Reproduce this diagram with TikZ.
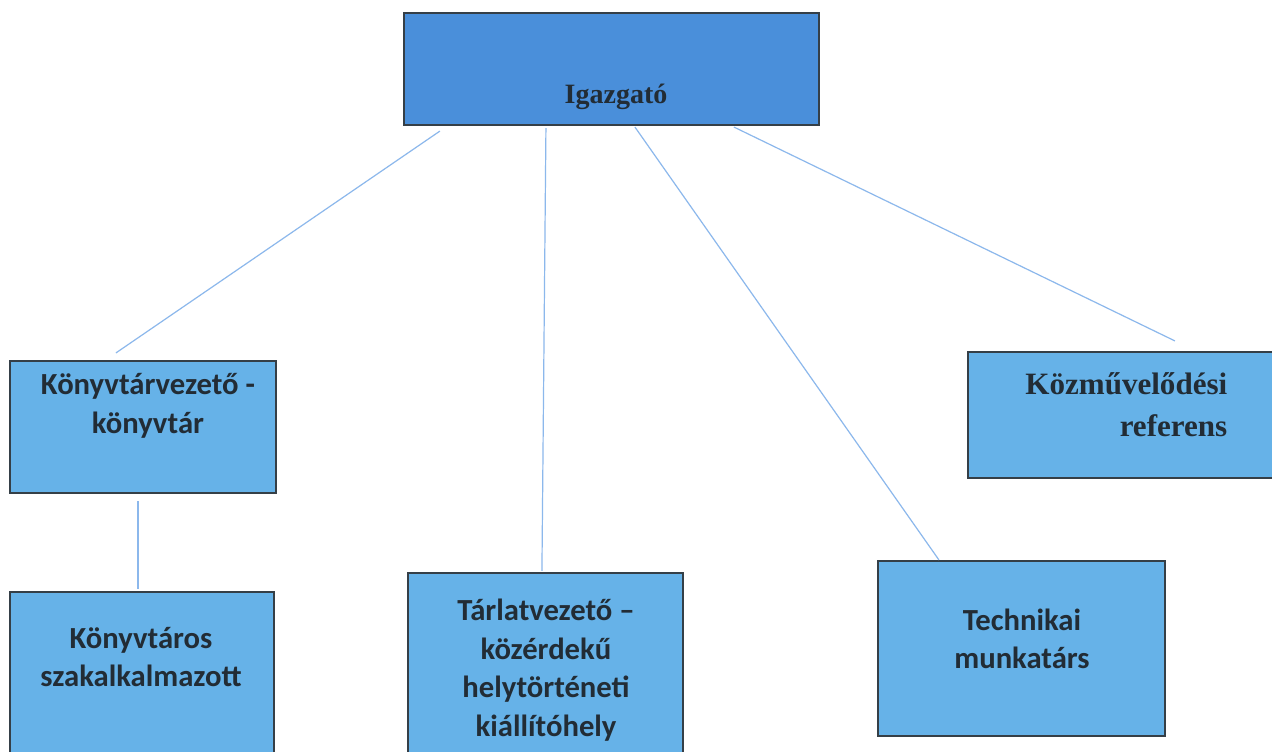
\documentclass[tikz,border=0pt]{standalone}
\usepackage{fontspec}
\setmainfont{Liberation Serif}
\newfontfamily\boxfont{Carlito}
\usetikzlibrary{calc}
\definecolor{chiefblue}{HTML}{4A8FDA}
\definecolor{staffblue}{HTML}{66B2E8}
\definecolor{framegrey}{HTML}{353F47}
\definecolor{linkblue}{HTML}{8CB8EC}
\definecolor{inkgrey}{HTML}{222C35}

\begin{document}
\begin{tikzpicture}[x=0.75pt, y=-0.75pt,
	unit/.style={draw=framegrey, line width=1.6pt, fill=staffblue, inner sep=0pt},
	link/.style={draw=linkblue, line width=0.9pt},
	sanstext/.style={font=\boxfont\bfseries\fontsize{23}{29}\selectfont, text=inkgrey, align=center},
	seriftext/.style={font=\bfseries\fontsize{21}{31}\selectfont, text=inkgrey}]
			%%%%% START %%%%%
			
			\fill[white] (0, 0) rectangle (1272, 752);
			\useasboundingbox (0, 0) rectangle (1272, 752);
			
			% boxes
			\node[unit, fill=chiefblue, minimum width=311.25pt, minimum height=84pt] (chief) at (611.5, 69) {};
			\node[unit, minimum width=199.5pt, minimum height=99pt] (library) at (143, 427) {};
			\node[unit, minimum width=198pt, minimum height=133.5pt] (librarian) at (142, 681) {};
			\node[unit, minimum width=206.25pt, minimum height=147.75pt] (exhibit) at (545.5, 671.5) {};
			\node[unit, minimum width=215.25pt, minimum height=131.25pt] (technical) at (1021.5, 648.5) {};
			\node[unit, minimum width=241.5pt, minimum height=94.5pt] (culture) at (1129, 415) {};
			
			% texts
			\node[seriftext] (chieftext) at (616, 97) {Igazgató};
			\node[sanstext] (librarytext) at (148, 406) {Könyvtárvezető -\\könyvtár};
			\node[sanstext] (librariantext) at (141, 657) {Könyvtáros\\szakalkalmazott};
			\node[sanstext] (exhibittext) at (546, 670) {Tárlatvezető –\\közérdekű\\helytörténeti\\kiállítóhely};
			\node[sanstext] (technicaltext) at (1022, 639) {Technikai\\munkatárs};
			\node[seriftext, align=right, font=\bfseries\fontsize{23.3}{31.5}\selectfont, anchor=east] (culturetext) at (1232, 405) {Közművelődési\\referens};
			
			% links
			\draw[link] ([shift={(37, 5)}]chief.south west) -- ([shift={(107, -7)}]library.north west);
			\draw[link] ([shift={(143, 2)}]chief.south west) -- ([shift={(135, -1)}]exhibit.north west);
			\draw[link] ([shift={(232, 1)}]chief.south west) -- ([shift={(62, 0)}]technical.north west);
			\draw[link] ([shift={(331, 1)}]chief.south west) -- ([shift={(208, -10)}]culture.north west);
			\draw[link] ([shift={(129, 7)}]library.south west) -- ([shift={(129, -2)}]librarian.north west);
			
			%%%%% END %%%%%
		\end{tikzpicture}
\end{document}
